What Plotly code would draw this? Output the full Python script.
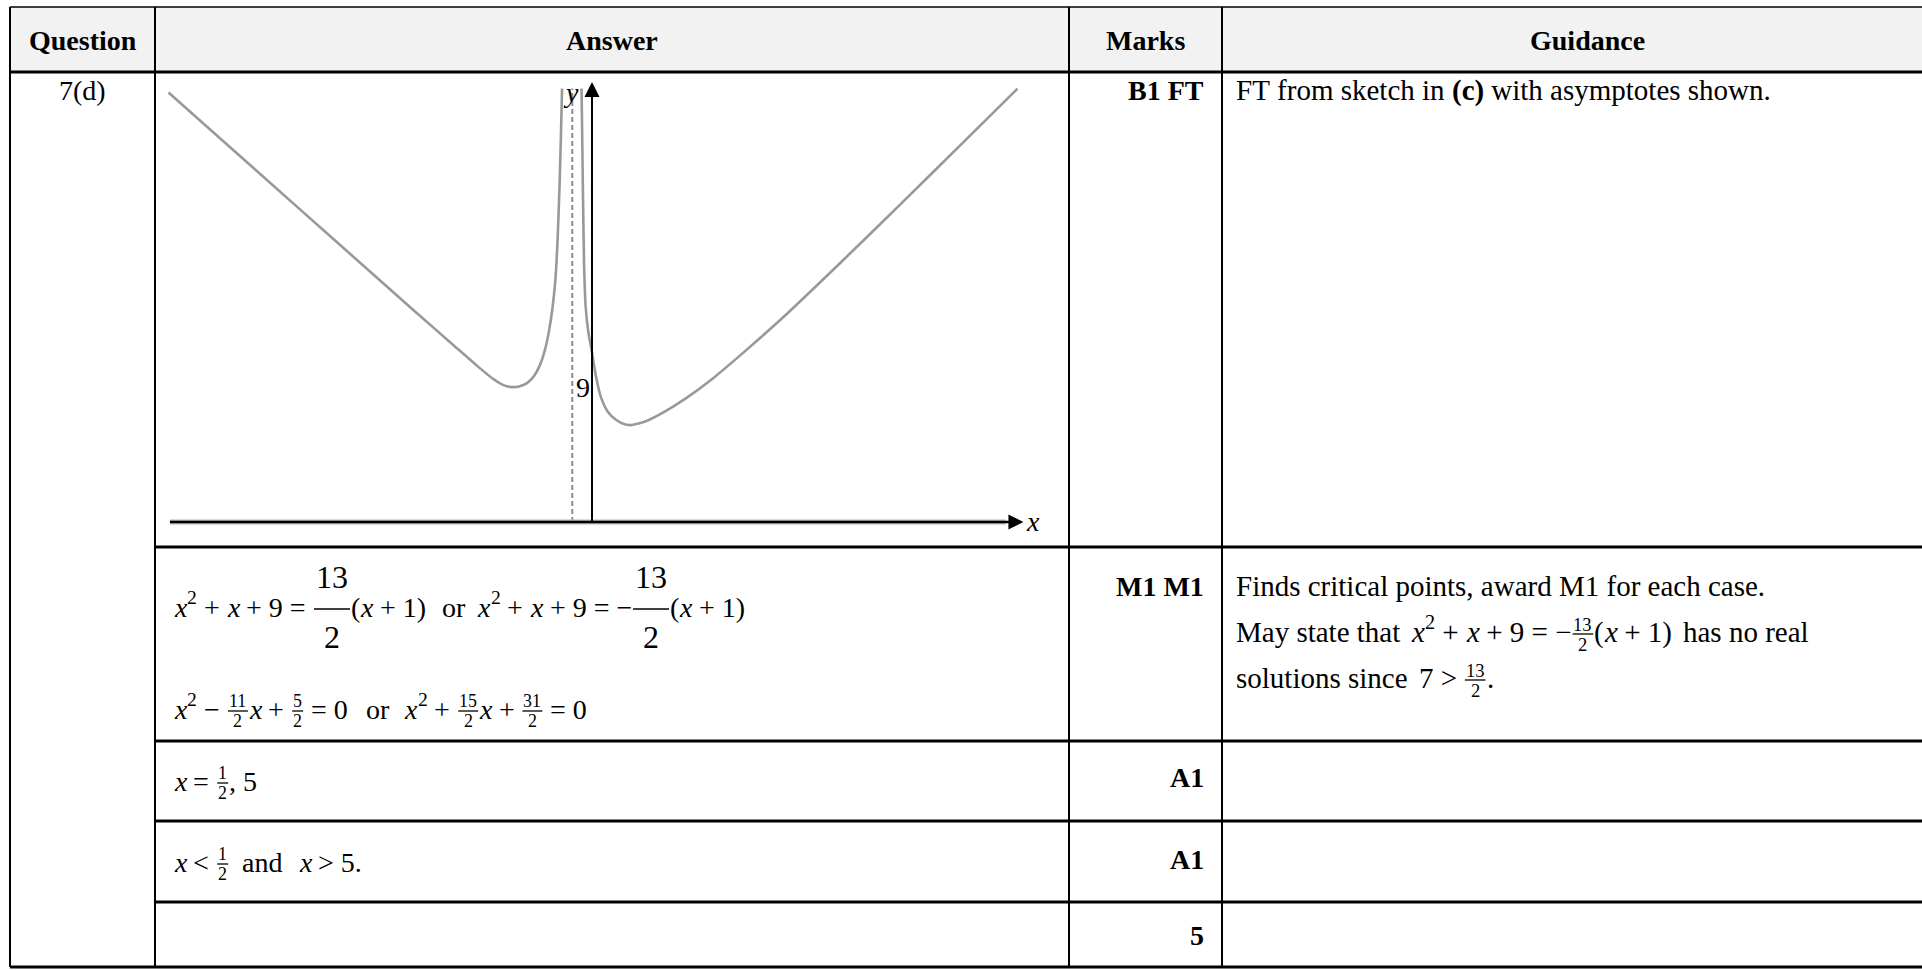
import plotly.graph_objects as go

W, H = 1922, 970
FONT = "Liberation Serif, Times New Roman, serif"
FS = 28
GFS = 29

# ---------------- graph data (in axis units) ----------------
left_x = [-21.5, -17.0, -13.0, -9.0, -7.0, -5.8, -5.0, -4.5, -4.1, -3.7, -3.3, -2.95,
          -2.65, -2.4, -2.2, -2.0, -1.85, -1.74, -1.65, -1.58, -1.52]
left_y = [21.8, 17.8, 14.25, 10.7, 8.95, 7.9, 7.25, 6.95, 6.85, 6.88, 7.05, 7.4,
          7.95, 8.7, 9.6, 10.9, 12.4, 14.5, 17.0, 19.5, 22.0]
right_x = [-0.53, -0.49, -0.45, -0.4, -0.32, -0.18, 0.0, 0.2, 0.45, 0.8, 1.2, 1.55, 1.95,
           2.7, 3.6, 4.8, 6.15, 7.8, 9.55, 12.6, 15.6, 18.6, 21.6]
right_y = [22.0, 19.0, 16.0, 13.0, 10.9, 9.6, 8.6, 7.4, 6.35, 5.6, 5.2, 5.0, 4.92,
           5.1, 5.55, 6.3, 7.3, 8.7, 10.25, 13.15, 16.07, 19.03, 22.0]
asym_x = [-1.0, -1.0]
asym_y = [0.0, 22.0]
x_axis_from, x_axis_to = -21.5, 21.9
y_axis_to = 22.34
y_int_label = "9"

# ---------------- table text ----------------
headers = ["Question", "Answer", "Marks", "Guidance"]
question = "7(d)"
marks = ["B1 FT", "M1 M1", "A1", "A1", "5"]
guidance_row1 = [("r", "FT from sketch in "), ("b", "(c)"), ("r", " with asymptotes shown.")]
guidance_row2_l1 = "Finds critical points, award M1 for each case."

# ---------------- geometry of the page (pixels) ----------------
COLS = [10, 155, 1069, 1222, 1952]
ROWS = [7, 72, 547, 741, 821, 902, 967]
ORIGIN = (592, 522)   # pixel of graph origin
UNIT = 19.7           # pixels per unit
GX = (160, 1060)
GY = (75, 545)

REG = {' ': .25, '(': .333, ')': .333, ',': .25, '.': .25, '<': .564, '=': .564, '>': .564,
       '+': .564, '\u2212': .564,
       'A': .722, 'B': .667, 'C': .667, 'D': .722, 'E': .611, 'F': .556, 'G': .722, 'H': .722,
       'I': .333, 'M': .889, 'T': .611,
       'a': .444, 'b': .5, 'c': .444, 'd': .5, 'e': .444, 'f': .333, 'g': .5, 'h': .5, 'i': .278,
       'j': .278, 'k': .5, 'l': .278, 'm': .778, 'n': .5, 'o': .5, 'p': .5, 'q': .5, 'r': .333,
       's': .389, 't': .278, 'u': .5, 'v': .5, 'w': .722, 'x': .5, 'y': .5, 'z': .444}
BOLD = {' ': .25, '(': .333, ')': .333, 'A': .722, 'B': .667, 'F': .611, 'M': .944, 'T': .667,
        'c': .444}
ITA = {'x': .444, 'y': .444}


def tw(s, style='r'):
    tab = {'r': REG, 'b': BOLD, 'i': ITA}[style]
    tot = 0.0
    for ch in s:
        if ch.isdigit():
            tot += .5
        else:
            tot += tab.get(ch, REG.get(ch, .5))
    return tot


annotations = []
shapes = []


def pxx(x):
    return x / W


def pyy(y):
    return 1 - y / H


def txt(s, x, y, size=FS, style='r', anchor='left'):
    t = s.replace('<', '&lt;').replace('>', '&gt;').replace(' ', '\u00a0')
    if style == 'i':
        t = '<i>' + t + '</i>'
    elif style == 'b':
        t = '<b>' + t + '</b>'
    annotations.append(dict(text=t, x=pxx(x), y=pyy(y), xref='paper', yref='paper',
                            xanchor=anchor, yanchor='middle', showarrow=False,
                            borderpad=0, borderwidth=0,
                            font=dict(family=FONT, size=size, color='black')))


def hline(y, x0, x1, w):
    shapes.append(dict(type='line', xref='paper', yref='paper', x0=pxx(x0), x1=pxx(x1),
                       y0=pyy(y), y1=pyy(y), line=dict(color='black', width=w)))


def vline(x, y0, y1, w):
    shapes.append(dict(type='line', xref='paper', yref='paper', x0=pxx(x), x1=pxx(x),
                       y0=pyy(y0), y1=pyy(y1), line=dict(color='black', width=w)))


def mline(items, x0, yc, size=FS):
    x = x0
    for it in items:
        k = it[0]
        if k in ('r', 'i', 'b'):
            txt(it[1], x, yc, size, k)
            x += tw(it[1], k) * size
        elif k == 'sup':
            ss = size * 0.7
            txt(it[1], x + 1, yc - size * 0.33, ss, 'r')
            x += tw(it[1]) * ss + 1
        elif k == 'frac':
            num, den, big = it[1], it[2], it[3]
            fs = 32 if big else size * 0.64
            w = max(tw(num), tw(den)) * fs + (6 if big else 4)
            cx = x + w / 2
            if big:
                ny, dy = yc - 30, yc + 30
            else:
                ny, dy = yc - 8, yc + 12
            txt(num, cx, ny, fs, 'r', 'center')
            txt(den, cx, dy, fs, 'r', 'center')
            shapes.append(dict(type='line', xref='paper', yref='paper',
                               x0=pxx(x + 1), x1=pxx(x + w - 1), y0=pyy(yc + 2), y1=pyy(yc + 2),
                               line=dict(color='black', width=1.3)))
            x += w
        elif k == 'gap':
            x += it[1]
    return x


# ---------------- table ----------------
shapes.append(dict(type='rect', xref='paper', yref='paper', x0=pxx(COLS[0]), x1=pxx(W + 5),
                   y0=pyy(ROWS[0]), y1=pyy(ROWS[1]), fillcolor='#f2f2f2',
                   line=dict(width=0), layer='below'))
hline(ROWS[0], COLS[0], W + 5, 1.5)
hline(ROWS[1], COLS[0], W + 5, 3)
for r in ROWS[2:6]:
    hline(r, COLS[1], W + 5, 3)
hline(ROWS[6], COLS[0], W + 5, 3)
for c in COLS[:4]:
    vline(c, ROWS[0], ROWS[6], 2)

hdr_cx = [(COLS[0] + COLS[1]) / 2, (COLS[1] + COLS[2]) / 2, (COLS[2] + COLS[3]) / 2,
          (COLS[3] + COLS[4]) / 2]
for h, cx in zip(headers, hdr_cx):
    txt(h, cx, 41, FS, 'b', 'center')

txt(question, hdr_cx[0], 90, FS, 'r', 'center')

MARK_X = 1204
for m, yy in zip(marks, [90, 586, 777, 859, 935]):
    txt(m, MARK_X, yy, FS, 'b', 'right')

GX0 = 1236
mline(guidance_row1, GX0, 90, GFS)
mline([('r', guidance_row2_l1)], GX0, 586, GFS)
mline([('r', 'May state that'), ('gap', 11), ('i', 'x'), ('sup', '2'), ('r', ' + '), ('i', 'x'),
       ('r', ' + 9 = \u2212'), ('frac', '13', '2', False), ('r', '('), ('i', 'x'), ('r', ' + 1)'),
       ('gap', 11), ('r', 'has no real')], GX0, 632, GFS)
mline([('r', 'solutions since'), ('gap', 11), ('r', '7 > '), ('frac', '13', '2', False),
       ('r', '.')], GX0, 678, GFS)

AX0 = 174
mline([('i', 'x'), ('sup', '2'), ('r', ' + '), ('i', 'x'), ('r', ' + 9 = '),
       ('frac', '13', '2', True), ('r', '('), ('i', 'x'), ('r', ' + 1)'), ('gap', 16),
       ('r', 'or'), ('gap', 12), ('i', 'x'), ('sup', '2'), ('r', ' + '), ('i', 'x'),
       ('r', ' + 9 = \u2212'), ('frac', '13', '2', True), ('r', '('), ('i', 'x'), ('r', ' + 1)')],
      AX0, 607)
mline([('i', 'x'), ('sup', '2'), ('r', ' \u2212 '), ('frac', '11', '2', False), ('i', 'x'),
       ('r', ' + '), ('frac', '5', '2', False), ('r', ' = 0'), ('gap', 18), ('r', 'or'),
       ('gap', 15), ('i', 'x'), ('sup', '2'), ('r', ' + '), ('frac', '15', '2', False),
       ('i', 'x'), ('r', ' + '), ('frac', '31', '2', False), ('r', ' = 0')], AX0, 709)
mline([('i', 'x'), ('r', ' = '), ('frac', '1', '2', False), ('r', ', 5')], AX0, 781)
mline([('i', 'x'), ('r', ' < '), ('frac', '1', '2', False), ('gap', 6), ('r', ' and'),
       ('gap', 16), ('i', 'x'), ('r', ' > 5.')], AX0, 862)

# ---------------- graph ----------------
fig = go.Figure()
CURVE = '#999999'
fig.add_trace(go.Scatter(x=asym_x, y=asym_y, mode='lines',
                         line=dict(color='#8c8c8c', width=2, dash='5px,3px'),
                         hoverinfo='skip'))
fig.add_trace(go.Scatter(x=left_x, y=left_y, mode='lines',
                         line=dict(color=CURVE, width=2.6, shape='spline', smoothing=0.6)))
fig.add_trace(go.Scatter(x=right_x, y=right_y, mode='lines',
                         line=dict(color=CURVE, width=2.6, shape='spline', smoothing=0.6)))

# axes with arrow heads
annotations.append(dict(x=x_axis_to - 0.9, y=0, ax=x_axis_from, ay=0, xref='x', yref='y',
                        axref='x', ayref='y', text='', showarrow=True, arrowhead=0,
                        arrowwidth=5, arrowcolor='#b8b8b8', standoff=0, startstandoff=0))
annotations.append(dict(x=x_axis_to, y=0, ax=x_axis_from, ay=0, xref='x', yref='y',
                        axref='x', ayref='y', text='', showarrow=True, arrowhead=2,
                        arrowsize=1.2, arrowwidth=2.5, arrowcolor='black', standoff=0,
                        startstandoff=0))
annotations.append(dict(x=0, y=y_axis_to, ax=0, ay=-0.1, xref='x', yref='y',
                        axref='x', ayref='y', text='', showarrow=True, arrowhead=2,
                        arrowsize=1.5, arrowwidth=2, arrowcolor='black', standoff=0,
                        startstandoff=0))
annotations.append(dict(x=-1.07, y=21.8, xref='x', yref='y', text='<i>y</i>', showarrow=False,
                        xanchor='center', yanchor='middle',
                        font=dict(family=FONT, size=FS, color='black')))
annotations.append(dict(x=x_axis_to + 0.05, y=0.05, xref='x', yref='y', text='<i>x</i>',
                        showarrow=False, xanchor='left', yanchor='middle',
                        font=dict(family=FONT, size=FS, color='black')))
annotations.append(dict(x=-0.46, y=6.85, xref='x', yref='y', text=y_int_label, showarrow=False,
                        xanchor='center', yanchor='middle',
                        font=dict(family=FONT, size=FS, color='black')))

xr = [(GX[0] - ORIGIN[0]) / UNIT, (GX[1] - ORIGIN[0]) / UNIT]
yr = [(ORIGIN[1] - GY[1]) / UNIT, (ORIGIN[1] - GY[0]) / UNIT]

fig.update_layout(
    width=W, height=H, margin=dict(l=0, r=0, t=0, b=0),
    paper_bgcolor='white', plot_bgcolor='rgba(0,0,0,0)', showlegend=False,
    xaxis=dict(domain=[GX[0] / W, GX[1] / W], range=xr, visible=False, fixedrange=True),
    yaxis=dict(domain=[1 - GY[1] / H, 1 - GY[0] / H], range=yr, visible=False, fixedrange=True),
    shapes=shapes, annotations=annotations,
    font=dict(family=FONT, size=FS, color='black'),
)

fig.write_html("out.html", config={'displayModeBar': False},
               post_script="document.body.style.margin='0';document.body.style.overflow='hidden';")
